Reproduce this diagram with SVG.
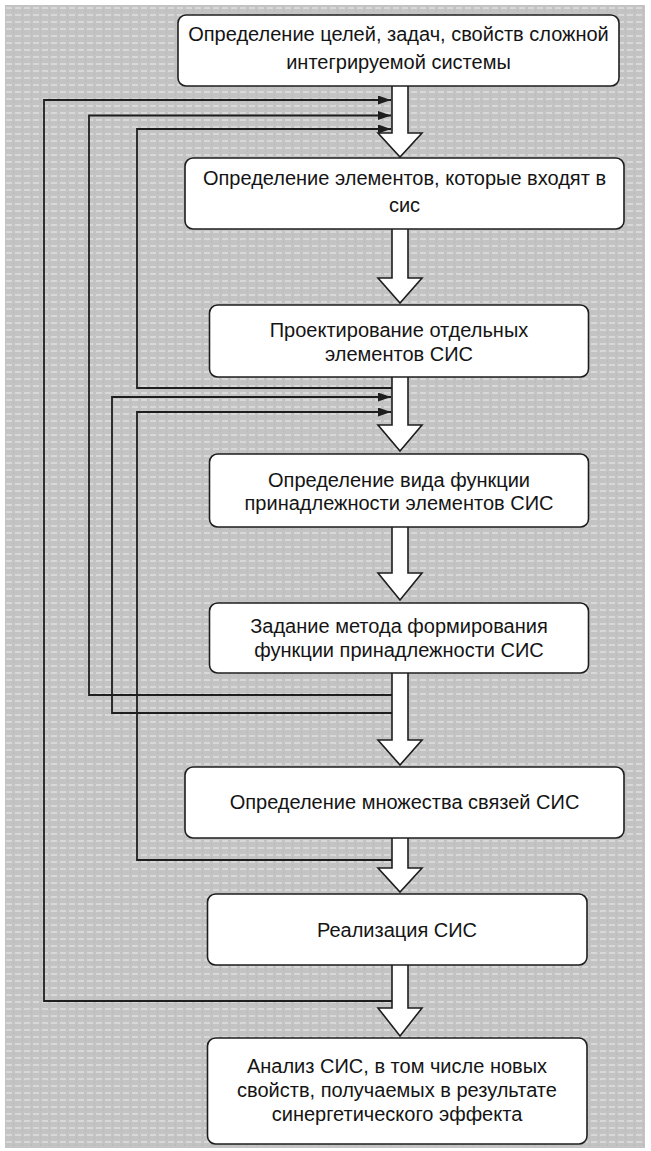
<svg xmlns="http://www.w3.org/2000/svg" width="651" height="1151" viewBox="0 0 651 1151">
<style>
.box{fill:#ffffff;stroke:#1e1e1e;stroke-width:1.6}
.txt{font-family:"Liberation Sans",Arial,sans-serif;font-size:20px;fill:#141414;text-anchor:middle}
.blk{fill:#ffffff;stroke:#1e1e1e;stroke-width:1.6;stroke-linejoin:miter}
.fb{fill:none;stroke:#1e1e1e;stroke-width:1.8}
</style>
<defs>
<pattern id="tex" x="5" y="5" width="9" height="7" patternUnits="userSpaceOnUse">
<rect width="9" height="7" fill="#c3c3c3"/>
<rect x="1" y="2" width="6" height="2" fill="#d8d8d8"/>
<rect x="8" y="5" width="1" height="2" fill="#b9b9b9"/>
</pattern>
<marker id="ah" markerUnits="userSpaceOnUse" markerWidth="13" markerHeight="9" refX="13" refY="4.5" orient="auto">
<path d="M0,0 L13,4.5 L0,9 Z" fill="#1e1e1e"/>
</marker>
</defs>
<rect x="0" y="0" width="651" height="1151" fill="#ffffff"/>
<rect x="5" y="5" width="640" height="1143" fill="url(#tex)"/>
<g id="connectors">
<path class="fb" d="M393,1001 H44 V100 H391" marker-end="url(#ah)"/>
<path class="fb" d="M393,695 H89 V115.5 H391" marker-end="url(#ah)"/>
<path class="fb" d="M393,388 H137 V129 H391" marker-end="url(#ah)"/>
<path class="fb" d="M393,713 H112 V397 H391" marker-end="url(#ah)"/>
<path class="fb" d="M393,860 H137 V412 H391" marker-end="url(#ah)"/>
</g>
<g id="flow-arrows">
<path class="blk" d="M392,86 V133 H378 L400,157 L422,133 H408 V86"/>
<path class="blk" d="M392,229 V278 H378 L400,303 L422,278 H408 V229"/>
<path class="blk" d="M392,377 V425 H378 L400,451 L422,425 H408 V377"/>
<path class="blk" d="M392,527 V573 H378 L400,600 L422,573 H408 V527"/>
<path class="blk" d="M392,673 V740 H378 L400,765 L422,740 H408 V673"/>
<path class="blk" d="M392,838 V868 H378 L400,892 L422,868 H408 V838"/>
<path class="blk" d="M392,965 V1008 H378 L400,1036 L422,1008 H408 V965"/>
</g>
<g id="n1">
<rect class="box" x="178" y="15" width="441" height="71" rx="8"/>
<text class="txt" x="398.5" y="40.5">Определение целей, задач, свойств сложной</text>
<text class="txt" x="398.5" y="69">интегрируемой системы</text>
</g>
<g id="n2">
<rect class="box" x="185" y="158" width="439" height="71" rx="8"/>
<text class="txt" x="404.5" y="185">Определение элементов, которые входят в</text>
<text class="txt" x="404.5" y="211.5">сис</text>
</g>
<g id="n3">
<rect class="box" x="209.5" y="305" width="379" height="72" rx="8"/>
<text class="txt" x="399" y="336.5">Проектирование отдельных</text>
<text class="txt" x="399" y="361">элементов СИС</text>
</g>
<g id="n4">
<rect class="box" x="209.5" y="454" width="379" height="73" rx="8"/>
<text class="txt" x="399" y="487">Определение вида функции</text>
<text class="txt" x="399" y="510">принадлежности элементов СИС</text>
</g>
<g id="n5">
<rect class="box" x="209.5" y="603" width="379" height="70" rx="8"/>
<text class="txt" x="399" y="633">Задание метода формирования</text>
<text class="txt" x="399" y="657">функции принадлежности СИС</text>
</g>
<g id="n6">
<rect class="box" x="185" y="767" width="439" height="71" rx="8"/>
<text class="txt" x="404.5" y="809">Определение множества связей СИС</text>
</g>
<g id="n7">
<rect class="box" x="207.5" y="894" width="379.5" height="71" rx="8"/>
<text class="txt" x="397" y="937">Реализация СИС</text>
</g>
<g id="n8">
<rect class="box" x="207.5" y="1038" width="379.5" height="106" rx="8"/>
<text class="txt" x="397" y="1073">Анализ СИС, в том числе новых</text>
<text class="txt" x="397" y="1097">свойств, получаемых в результате</text>
<text class="txt" x="397" y="1121">синергетического эффекта</text>
</g>
</svg>
